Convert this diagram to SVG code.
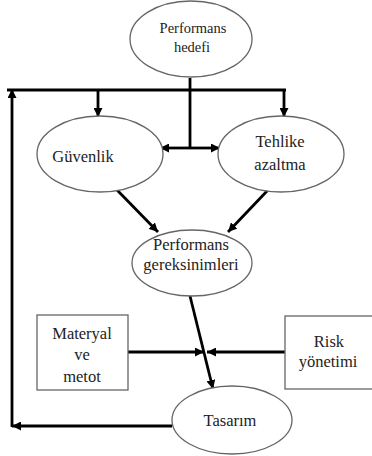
<svg xmlns="http://www.w3.org/2000/svg" width="372" height="456" viewBox="0 0 372 456" font-family="'Liberation Serif', 'Times New Roman', 'DejaVu Serif', serif">
<defs>
<marker id="ah" viewBox="0 0 10 10" refX="10" refY="5" markerWidth="9" markerHeight="9" markerUnits="userSpaceOnUse" orient="auto-start-reverse">
<path d="M0,0 L10,5 L0,10 z" fill="#000"/>
</marker>
<style>
.n{fill:#fff;stroke:#666;stroke-width:1.3}
text{font-family:'Liberation Serif','Times New Roman','DejaVu Serif',serif;font-size:16.5px;fill:#222;text-anchor:middle}
.s{font-size:14.5px}
.c{stroke:#000;stroke-width:2.8;fill:none}
.a{marker-end:url(#ah)}
</style>
</defs>
<rect width="372" height="456" fill="#fff"/>
<g id="connectors">
<line class="c" x1="190" y1="78" x2="190" y2="148"/>
<line class="c" x1="7" y1="90" x2="286" y2="90"/>
<line class="c a" x1="98" y1="90" x2="98" y2="117"/>
<line class="c a" x1="284" y1="90" x2="284" y2="117"/>
<line class="c a" x1="190" y1="148" x2="160" y2="148"/>
<line class="c a" x1="190" y1="148" x2="220" y2="148"/>
<line class="c a" x1="117" y1="190" x2="158" y2="232"/>
<line class="c a" x1="268" y1="190" x2="228" y2="232"/>
<line class="c a" x1="190" y1="296" x2="213" y2="389"/>
<line class="c a" x1="128" y1="352" x2="204" y2="352"/>
<line class="c a" x1="285" y1="352" x2="207" y2="352"/>
<line class="c a" x1="172" y1="426" x2="12" y2="426"/>
<line class="c a" x1="12" y1="427" x2="12" y2="89"/>
</g>
<g id="hedef">
<ellipse class="n" cx="191" cy="39" rx="61" ry="38"/>
<text class="s" x="193" y="33">Performans</text>
<text class="s" x="192" y="52">hedefi</text>
</g>
<g id="guvenlik">
<ellipse class="n" cx="100" cy="154" rx="63" ry="38"/>
<text x="83" y="162">Güvenlik</text>
</g>
<g id="tehlike">
<ellipse class="n" cx="281" cy="154" rx="63" ry="38"/>
<text x="280" y="147">Tehlike</text>
<text x="280" y="170">azaltma</text>
</g>
<g id="gereksinim">
<ellipse class="n" cx="192" cy="263" rx="60" ry="33"/>
<text x="191" y="250">Performans</text>
<text x="191" y="270">gereksinimleri</text>
</g>
<g id="materyal">
<rect class="n" x="37" y="315" width="91" height="75"/>
<text x="82" y="339">Materyal</text>
<text x="82" y="360">ve</text>
<text x="82" y="382">metot</text>
</g>
<g id="risk">
<rect class="n" x="285" y="316" width="100" height="73"/>
<text x="329" y="347">Risk</text>
<text x="328" y="367">yönetimi</text>
</g>
<g id="tasarim">
<ellipse class="n" cx="232" cy="420" rx="60" ry="34"/>
<text x="230" y="426">Tasarım</text>
</g>
</svg>
